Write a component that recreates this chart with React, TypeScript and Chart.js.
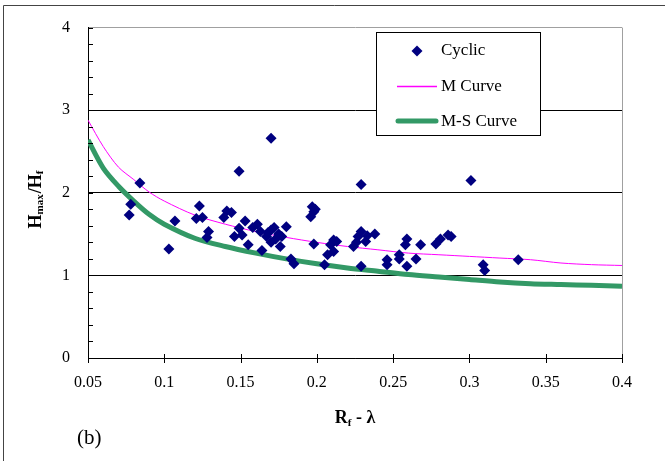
import React, { useEffect, useRef } from 'react';
import { Chart, registerables } from 'chart.js';

Chart.register(...registerables);

// Cyclic test data (x = Rf - λ, y = Hmax/Hf)
const cyclicX = [
  0.077, 0.078, 0.084, 0.107, 0.103, 0.123, 0.121, 0.125, 0.129, 0.128,
  0.139, 0.144, 0.141, 0.153, 0.149, 0.146, 0.151, 0.155, 0.158, 0.161,
  0.163, 0.164, 0.167, 0.168, 0.170, 0.172, 0.170, 0.173, 0.175, 0.176,
  0.177, 0.180, 0.183, 0.185, 0.197, 0.196, 0.198, 0.199, 0.198, 0.205,
  0.207, 0.209, 0.211, 0.211, 0.213, 0.224, 0.226, 0.227, 0.229, 0.232,
  0.233, 0.238, 0.229, 0.246, 0.246, 0.254, 0.254, 0.258, 0.259, 0.259,
  0.265, 0.268, 0.278, 0.281, 0.286, 0.288, 0.309, 0.310, 0.332, 0.149,
  0.170, 0.229, 0.301,
];
const cyclicY = [
  1.73, 1.86, 2.12, 1.66, 1.32, 1.84, 1.69, 1.70, 1.53, 1.46,
  1.70, 1.76, 1.78, 1.66, 1.57, 1.47, 1.49, 1.37, 1.58, 1.62,
  1.53, 1.30, 1.47, 1.52, 1.55, 1.58, 1.40, 1.44, 1.50, 1.35,
  1.47, 1.59, 1.20, 1.14, 1.83, 1.71, 1.77, 1.80, 1.38, 1.13,
  1.25, 1.37, 1.43, 1.29, 1.41, 1.35, 1.40, 1.47, 1.53, 1.41,
  1.48, 1.50, 1.11, 1.19, 1.13, 1.25, 1.20, 1.37, 1.44, 1.11,
  1.20, 1.37, 1.38, 1.44, 1.49, 1.47, 1.13, 1.06, 1.19, 2.26,
  2.66, 2.10, 2.15,
];

// Model curves
const curveX = [0.05, 0.06, 0.07, 0.08, 0.09, 0.1, 0.12, 0.14, 0.16, 0.18, 0.2, 0.22, 0.24, 0.26, 0.28, 0.3, 0.32, 0.34, 0.36, 0.38, 0.4];
const mCurveY = [2.88, 2.56, 2.31, 2.16, 2.01, 1.90, 1.73, 1.62, 1.53, 1.46, 1.40, 1.35, 1.31, 1.27, 1.25, 1.23, 1.21, 1.19, 1.15, 1.13, 1.12];
const msCurveY = [2.64, 2.30, 2.08, 1.90, 1.74, 1.62, 1.45, 1.35, 1.27, 1.20, 1.14, 1.09, 1.05, 1.01, 0.98, 0.95, 0.92, 0.90, 0.89, 0.88, 0.87];

// Axis ticks
const xTickValues = [0.05, 0.1, 0.15, 0.2, 0.25, 0.3, 0.35, 0.4];
const yTickValues = [0, 1, 2, 3, 4];
const yMinorStep = 0.2;

const legendLabels = ['Cyclic', 'M Curve', 'M-S Curve'];

const NAVY = '#000080';
const MAGENTA = '#FF00FF';
const GREEN = '#339966';
const SERIF = "'Liberation Serif', 'Times New Roman', serif";

const decorPlugin = {
  id: 'decor',
  beforeDraw(chart: any) {
    const { ctx, width, height } = chart;
    ctx.save();
    ctx.fillStyle = '#ffffff';
    ctx.fillRect(0, 0, width, height);
    ctx.strokeStyle = '#444';
    ctx.lineWidth = 1;
    ctx.beginPath();
    ctx.moveTo(3.5, height);
    ctx.lineTo(3.5, 5.5);
    ctx.lineTo(width, 5.5);
    ctx.stroke();
    ctx.restore();
  },
  afterDraw(chart: any) {
    const { ctx, chartArea, scales } = chart;
    const { left, right, top, bottom } = chartArea;
    const xs = scales.x;
    const ys = scales.y;
    ctx.save();
    ctx.strokeStyle = '#000';
    ctx.lineWidth = 1;
    // x tick marks crossing the axis
    xTickValues.forEach((v) => {
      const px = Math.round(xs.getPixelForValue(v)) + 0.5;
      ctx.beginPath();
      ctx.moveTo(px, bottom - 4);
      ctx.lineTo(px, bottom + 5);
      ctx.stroke();
    });
    // y minor ticks inside
    const yMax = yTickValues[yTickValues.length - 1];
    for (let v = 0; v <= yMax + 1e-9; v += yMinorStep) {
      const py = Math.round(ys.getPixelForValue(v)) + 0.5;
      ctx.beginPath();
      ctx.moveTo(left, py);
      ctx.lineTo(left + 5, py);
      ctx.stroke();
    }

    // Legend box
    const lx = 376.5, ly = 32.5, lw = 164, lh = 103;
    ctx.fillStyle = '#fff';
    ctx.fillRect(lx, ly, lw, lh);
    ctx.strokeStyle = '#000';
    ctx.strokeRect(lx, ly, lw, lh);
    // Cyclic marker
    const dx = 417, dy = 51, r = 5.5;
    ctx.fillStyle = NAVY;
    ctx.beginPath();
    ctx.moveTo(dx - r, dy);
    ctx.lineTo(dx, dy - r);
    ctx.lineTo(dx + r, dy);
    ctx.lineTo(dx, dy + r);
    ctx.closePath();
    ctx.fill();
    // M curve line
    ctx.strokeStyle = MAGENTA;
    ctx.lineWidth = 1.5;
    ctx.beginPath();
    ctx.moveTo(397, 86.5);
    ctx.lineTo(437, 86.5);
    ctx.stroke();
    // M-S curve line
    ctx.strokeStyle = GREEN;
    ctx.lineWidth = 5;
    ctx.lineCap = 'round';
    ctx.beginPath();
    ctx.moveTo(398, 121);
    ctx.lineTo(436, 121);
    ctx.stroke();
    ctx.lineCap = 'butt';
    ctx.fillStyle = '#000';
    ctx.font = `17px ${SERIF}`;
    ctx.textAlign = 'left';
    ctx.textBaseline = 'middle';
    ctx.fillText(legendLabels[0], 441, 51);
    ctx.fillText(legendLabels[1], 441, 87);
    ctx.fillText(legendLabels[2], 441, 122);

    // Y axis title: Hmax/Hf (rotated)
    ctx.save();
    ctx.translate(36, 199);
    ctx.rotate(-Math.PI / 2);
    const big = `bold 18px ${SERIF}`;
    const small = `bold 11px ${SERIF}`;
    const parts: [string, string, number][] = [
      ['H', big, 0],
      ['max', small, 4],
      ['/H', big, 0],
      ['f', small, 4],
    ];
    let total = 0;
    parts.forEach(([t, f]) => {
      ctx.font = f;
      total += ctx.measureText(t).width + (f === small ? 1 : 0);
    });
    let cx = -total / 2;
    ctx.textAlign = 'left';
    ctx.textBaseline = 'middle';
    parts.forEach(([t, f, off]) => {
      ctx.font = f;
      ctx.fillText(t, cx, off);
      cx += ctx.measureText(t).width + (f === small ? 1 : 0);
    });
    ctx.restore();

    // X axis title: Rf - λ
    const xparts: [string, string, number][] = [
      ['R', big, 0],
      ['f', small, 5],
      [' - λ', big, 0],
    ];
    let xt = 0;
    xparts.forEach(([t, f]) => {
      ctx.font = f;
      xt += ctx.measureText(t).width;
    });
    let xx = (left + right) / 2 - xt / 2;
    xparts.forEach(([t, f, off]) => {
      ctx.font = f;
      ctx.fillText(t, xx, 418 + off);
      xx += ctx.measureText(t).width;
    });

    // Panel label
    ctx.font = `21px ${SERIF}`;
    ctx.fillText('(b)', 77, 438);
    ctx.restore();
  },
};

export default function App() {
  const canvasRef = useRef<HTMLCanvasElement | null>(null);

  useEffect(() => {
    const canvas = canvasRef.current;
    if (!canvas) return;
    const tickFont = { family: SERIF, size: 16 };
    const chart = new Chart(canvas, {
      type: 'scatter',
      data: {
        datasets: [
          {
            label: legendLabels[0],
            data: cyclicX.map((x, i) => ({ x, y: cyclicY[i] })),
            backgroundColor: NAVY,
            borderColor: NAVY,
            borderWidth: 0,
            pointStyle: 'rectRot',
            pointRadius: 5.5,
            showLine: false,
          },
          {
            label: legendLabels[1],
            data: curveX.map((x, i) => ({ x, y: mCurveY[i] })),
            borderColor: MAGENTA,
            backgroundColor: MAGENTA,
            borderWidth: 1,
            pointRadius: 0,
            showLine: true,
            tension: 0.3,
          },
          {
            label: legendLabels[2],
            data: curveX.map((x, i) => ({ x, y: msCurveY[i] })),
            borderColor: GREEN,
            backgroundColor: GREEN,
            borderWidth: 5,
            pointRadius: 0,
            showLine: true,
            tension: 0.3,
          },
        ],
      },
      options: {
        responsive: false,
        animation: false,
        layout: { padding: { left: 0, top: 24, right: 43, bottom: 0 } },
        plugins: {
          legend: { display: false },
          tooltip: { enabled: false },
          title: { display: false },
        },
        scales: {
          x: {
            type: 'linear',
            min: 0.05,
            max: 0.4,
            afterFit: (s: any) => {
              s.height = 103;
            },
            afterBuildTicks: (s: any) => {
              s.ticks = xTickValues.map((v) => ({ value: v }));
            },
            ticks: {
              font: tickFont,
              color: '#000',
              padding: 15,
              maxRotation: 0,
              autoSkip: false,
              callback: (v: any) => String(+Number(v).toFixed(2)),
            },
            grid: {
              color: (c: any) => (c.tick && Math.abs(c.tick.value - 0.4) < 1e-6 ? '#a0a0a0' : 'rgba(0,0,0,0)'),
              drawTicks: false,
              lineWidth: 1,
            },
            border: { color: '#000', width: 1 },
          },
          y: {
            type: 'linear',
            min: 0,
            max: 4,
            afterFit: (s: any) => {
              s.width = 88;
            },
            afterBuildTicks: (s: any) => {
              s.ticks = yTickValues.map((v) => ({ value: v }));
            },
            ticks: {
              font: tickFont,
              color: '#000',
              padding: 18,
              autoSkip: false,
            },
            grid: {
              color: (c: any) => (c.tick && c.tick.value === 4 ? '#a0a0a0' : '#000'),
              drawTicks: false,
              lineWidth: 1,
            },
            border: { color: '#000', width: 1 },
          },
        },
      },
      plugins: [decorPlugin],
    });
    return () => chart.destroy();
  }, []);

  return (
    <div style={{ position: 'fixed', left: 0, top: 0, width: 665, height: 461, background: '#fff' }}>
      <canvas ref={canvasRef} width={665} height={461} style={{ width: 665, height: 461, display: 'block' }} />
    </div>
  );
}
